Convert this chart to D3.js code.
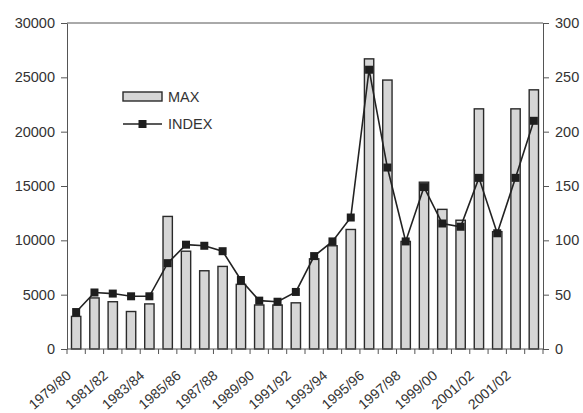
<!DOCTYPE html>
<html>
<head>
<meta charset="utf-8">
<script src="https://cdn.jsdelivr.net/npm/d3@7/dist/d3.min.js"></script>
<style>
  html, body { margin: 0; padding: 0; background: #fff; }
  svg { display: block; }
  text { font-family: "Liberation Sans", Arial, sans-serif; fill: #333; }
</style>
</head>
<body>
<svg id="chart" width="583" height="413"></svg>
<script>
const categories = ["1979/80","1980/81","1981/82","1982/83","1983/84","1984/85","1985/86","1986/87","1987/88","1988/89","1989/90","1990/91","1991/92","1992/93","1993/94","1994/95","1995/96","1996/97","1997/98","1998/99","1999/00","2000/01","2001/02","2002/03","2003/04","2004/05"];
const tickLabels = ["1979/80","1981/82","1983/84","1985/86","1987/88","1989/90","1991/92","1993/94","1995/96","1997/98","1999/00","2001/02","2001/02"];
const maxValues = [3000, 4700, 4350, 3450, 4150, 12200, 9000, 7200, 7600, 5950, 4050, 4050, 4250, 8300, 9500, 11000, 26700, 24750, 9900, 15350, 12850, 11850, 22100, 10800, 22100, 23850];
const indexValues = [34, 52, 51, 48.5, 48.5, 79, 96, 95, 90, 63.5, 44.5, 43.5, 52.5, 85.5, 99, 121, 257, 167, 99, 149, 115.5, 112.5, 157.5, 106.5, 157.5, 210];
const leftTicks = [0, 5000, 10000, 15000, 20000, 25000, 30000];
const rightTicks = [0, 50, 100, 150, 200, 250, 300];
const seriesNames = ["MAX", "INDEX"];

const svg = d3.select("#chart");
const L = 67, R = 543, T = 23, B = 349;

const x = d3.scaleBand().domain(categories).range([L, R]).paddingInner(0.49).paddingOuter(0.245);
const xb = d3.scaleBand().domain(categories).range([L, R]);
const yL = d3.scaleLinear().domain([0, 30000]).range([B, T]);
const yR = d3.scaleLinear().domain([0, 300]).range([B, T]);

const axisColor = "#555";
const fmt = d3.format("d");

// frame top line
svg.append("line").attr("x1", L).attr("x2", R).attr("y1", T).attr("y2", T)
  .attr("stroke", axisColor).attr("stroke-width", 1);

// left axis
const gL = svg.append("g").attr("transform", `translate(${L},0)`)
  .call(d3.axisLeft(yL).tickValues(leftTicks).tickFormat(fmt).tickSize(6).tickPadding(6).tickSizeOuter(0));
// right axis
const gR = svg.append("g").attr("transform", `translate(${R},0)`)
  .call(d3.axisRight(yR).tickValues(rightTicks).tickFormat(fmt).tickSize(6).tickPadding(6).tickSizeOuter(0));
[gL, gR].forEach(g => {
  g.select(".domain").attr("stroke", axisColor);
  g.selectAll(".tick line").attr("stroke", axisColor);
  g.selectAll(".tick text").style("font-size", "14.5px").attr("fill", "#333")
    .style("font-family", '"Liberation Sans", Arial, sans-serif');
});

// bars
svg.append("g").selectAll("rect").data(maxValues).join("rect")
  .attr("x", (d, i) => x(categories[i]))
  .attr("width", x.bandwidth())
  .attr("y", d => yL(d))
  .attr("height", d => B - yL(d))
  .attr("fill", "#d6d6d6")
  .attr("stroke", "#2a2a2a")
  .attr("stroke-width", 1.4);

// bottom axis
const gB = svg.append("g").attr("transform", `translate(0,${B})`);
gB.append("line").attr("x1", L).attr("x2", R).attr("stroke", axisColor);
gB.selectAll("line.tk").data(categories.concat(["__end"])).join("line").attr("class", "tk")
  .attr("x1", (d, i) => L + i * xb.step()).attr("x2", (d, i) => L + i * xb.step())
  .attr("y1", 0).attr("y2", 5).attr("stroke", axisColor);
gB.selectAll("text").data(tickLabels).join("text")
  .attr("transform", (d, i) => {
    const cx = xb(categories[i * 2]) + xb.bandwidth() / 2 - 4;
    return `translate(${cx},28) rotate(-41)`;
  })
  .attr("text-anchor", "end")
  .style("font-size", "14px")
  .text(d => d);

// index line
const line = d3.line().x((d, i) => x(categories[i]) + x.bandwidth() / 2).y(d => yR(d));
svg.append("path").datum(indexValues).attr("d", line)
  .attr("fill", "none").attr("stroke", "#222").attr("stroke-width", 1.6);
svg.append("g").selectAll("rect").data(indexValues).join("rect")
  .attr("x", (d, i) => x(categories[i]) + x.bandwidth() / 2 - 4)
  .attr("y", d => yR(d) - 4)
  .attr("width", 8).attr("height", 8)
  .attr("fill", "#1e1e1e");

// legend
const lg = svg.append("g");
lg.append("rect").attr("x", 123).attr("y", 92).attr("width", 39).attr("height", 9)
  .attr("fill", "#d6d6d6").attr("stroke", "#2a2a2a").attr("stroke-width", 1.4);
lg.append("text").attr("x", 168).attr("y", 102).style("font-size", "14.5px").text(seriesNames[0]);
lg.append("line").attr("x1", 123).attr("x2", 162).attr("y1", 124).attr("y2", 124)
  .attr("stroke", "#222").attr("stroke-width", 1.6);
lg.append("rect").attr("x", 138.5).attr("y", 120).attr("width", 8).attr("height", 8).attr("fill", "#1e1e1e");
lg.append("text").attr("x", 168).attr("y", 129).style("font-size", "14.5px").text(seriesNames[1]);
</script>
</body>
</html>
